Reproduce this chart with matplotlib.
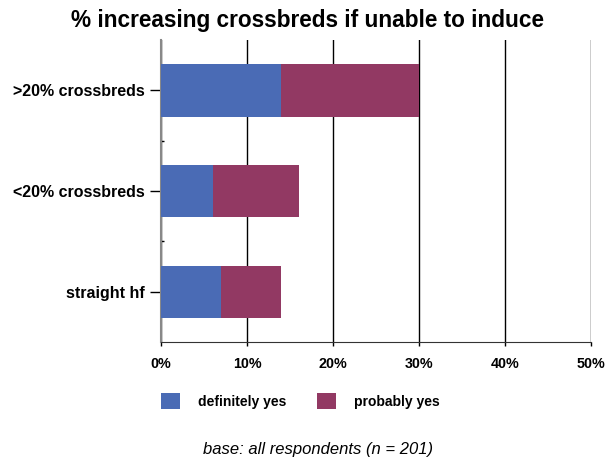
import matplotlib.pyplot as plt
import numpy as np

plt.rcParams['font.family'] = ['Liberation Sans', 'DejaVu Sans']

# Data
categories = ['>20% crossbreds', '<20% crossbreds', 'straight hf']
definitely_yes = [14, 6, 7]
probably_yes = [16, 10, 7]
xticks = [0, 10, 20, 30, 40, 50]
xticklabels = ['0%', '10%', '20%', '30%', '40%', '50%']

blue = '#4A6BB5'
plum = '#923963'

fig = plt.figure(figsize=(6.12, 4.61), dpi=100)
ax = fig.add_axes([0.263, 0.258, 0.7027, 0.655])

y = np.arange(len(categories))[::-1]
ax.barh(y, definitely_yes, height=0.52, color=blue, label='definitely yes', zorder=3)
ax.barh(y, probably_yes, left=definitely_yes, height=0.52, color=plum,
        label='probably yes', zorder=3)

ax.set_xlim(0, 50)
ax.set_ylim(-0.5, 2.5)
ax.set_xticks(xticks)
ax.set_xticklabels(xticklabels, fontsize=10.3, fontweight='bold')
ax.set_yticks(y)
ax.set_yticklabels(categories, fontsize=11.5, fontweight='bold')
ax.set_yticks([0.5, 1.5], minor=True)
ax.tick_params(axis='y', which='major', length=8, width=1, pad=3.5)
ax.tick_params(axis='y', which='minor', length=2, width=1, direction='in')
ax.tick_params(axis='x', length=3, width=1, pad=8)

ax.grid(axis='x', color='black', lw=1, zorder=1)
for s in ['top', 'right']:
    ax.spines[s].set_visible(False)
ax.spines['left'].set_color('#888888')
ax.spines['left'].set_linewidth(1.5)
ax.spines['bottom'].set_color('#333333')

fig.text(0.502, 0.942, '% increasing crossbreds if unable to induce', fontsize=16.3,
         fontweight='bold', ha='center', va='baseline')

ax.legend(loc='upper left', bbox_to_anchor=(-0.03, -0.128), ncol=2, frameon=False,
          prop={'size': 10, 'weight': 'bold'}, handlelength=1.4, handleheight=1.4,
          handletextpad=1.3, columnspacing=2.2)

fig.text(0.519, 0.024, 'base: all respondents (n = 201)', fontsize=12,
         style='italic', ha='center', va='center')

plt.savefig('out.png', dpi=100)
